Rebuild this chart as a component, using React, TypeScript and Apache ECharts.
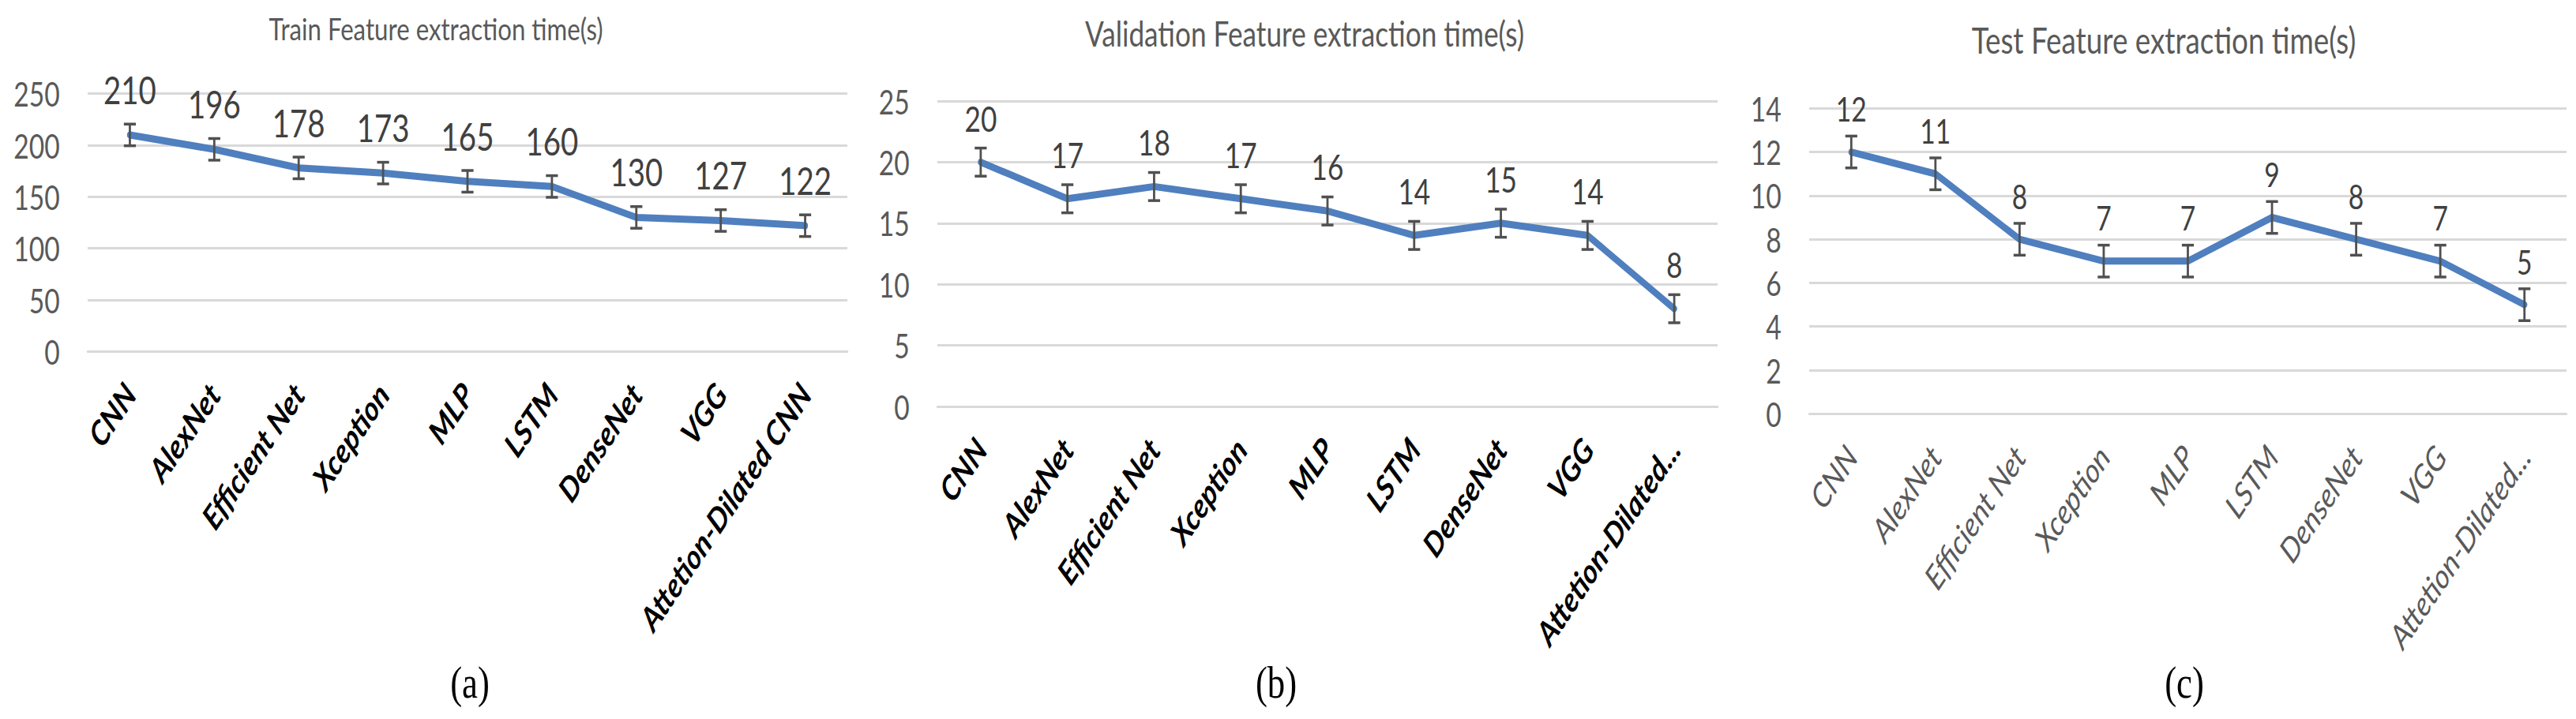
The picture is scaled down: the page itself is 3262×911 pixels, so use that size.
import React, { useEffect, useRef } from "react";
import * as echarts from "echarts";

// ---------- data ----------
const categories = [
  "CNN",
  "AlexNet",
  "Efficient Net",
  "Xception",
  "MLP",
  "LSTM",
  "DenseNet",
  "VGG",
  "Attetion-Dilated CNN",
];

const trainTimes = [210, 196, 178, 173, 165, 160, 130, 127, 122];
const valTimes = [20, 17, 18, 17, 16, 14, 15, 14, 8];
const testTimes = [12, 11, 8, 7, 7, 9, 8, 7, 5];

// error bar half-lengths
const trainErr = [10.5, 10.5, 10.5, 10.5, 10.5, 10.5, 10.5, 10.5, 10.5];
const valErr = [1.15, 1.15, 1.15, 1.15, 1.15, 1.15, 1.15, 1.15, 1.15];
const testErr = [0.73, 0.73, 0.73, 0.73, 0.73, 0.73, 0.73, 0.73, 0.73];

const titles = [
  "Train Feature extraction time(s)",
  "Validation Feature extraction time(s)",
  "Test Feature extraction time(s)",
];
const panelTags = ["(a)", "(b)", "(c)"];
const yMax = [250, 25, 14];
const yStep = [50, 5, 2];

// ---------- layout / style ----------
const S = 0.8; // horizontal squeeze of the original figure
const W = 3262 / S;
const H = 911;
const FONT = "Lato, 'Open Sans', sans-serif";
const BLUE = "#4F7FBE";
const BAR = "#505050";
const GRID = "#D9D9D9";

const grids = [
  { left: 138.75, top: 118.7, width: 1202.5, height: 326.6 },
  { left: 1483.75, top: 128, width: 1235, height: 387 },
  { left: 2863.75, top: 137.3, width: 1198.75, height: 387 },
];
const titlePos = [
  { x: 690, y: 36, size: 39 },
  { x: 2065, y: 42, size: 44 },
  { x: 3425, y: 50, size: 46 },
];
const tagX = [743.75, 2020, 3457.5];
const labelSize = [48, 44, 42];
const xLabelStyle = [
  { color: "#000000", weight: "bold", trunc: false },
  { color: "#000000", weight: "bold", trunc: true },
  { color: "#595959", weight: "normal", trunc: true },
];

function buildOption() {
  const values = [trainTimes, valTimes, testTimes];
  const errs = [trainErr, valErr, testErr];

  const xAxis = grids.map((_, i) => ({
    type: "category",
    gridIndex: i,
    data: categories,
    boundaryGap: true,
    axisTick: { show: false },
    axisLine: { show: true, lineStyle: { color: GRID, width: 3 } },
    axisLabel: {
      interval: 0,
      rotate: 50,
      hideOverlap: false,
      margin: 46,
      fontSize: 43,
      fontStyle: "italic",
      fontWeight: xLabelStyle[i].weight,
      color: xLabelStyle[i].color,
      fontFamily: FONT,
      formatter: (v: string) =>
        xLabelStyle[i].trunc && v.length > 17 ? v.slice(0, 16) + "..." : v,
    },
  }));

  const yAxis = grids.map((_, i) => ({
    type: "value",
    gridIndex: i,
    min: 0,
    max: yMax[i],
    interval: yStep[i],
    axisLine: { show: false },
    axisTick: { show: false },
    splitLine: { show: true, lineStyle: { color: GRID, width: 3 } },
    axisLabel: {
      margin: 44,
      fontSize: 42,
      color: "#595959",
      fontFamily: FONT,
    },
  }));

  const series: any[] = [];
  values.forEach((vals, i) => {
    series.push({
      type: "line",
      xAxisIndex: i,
      yAxisIndex: i,
      data: vals,
      symbol: "circle",
      symbolSize: 2,
      showSymbol: true,
      itemStyle: { color: BLUE },
      lineStyle: { color: BLUE, width: 9, cap: "round", join: "round" },
      z: 2,
      label: {
        show: true,
        position: "top",
        distance: 33,
        fontSize: labelSize[i],
        color: "#404040",
        fontFamily: FONT,
      },
    });
    series.push({
      type: "custom",
      xAxisIndex: i,
      yAxisIndex: i,
      z: 3,
      encode: { x: 0, y: 1 },
      data: vals.map((v, k) => [k, v, errs[i][k]]),
      renderItem: (params: any, api: any) => {
        const idx = api.value(0);
        const v = api.value(1);
        const e = api.value(2);
        const top = api.coord([idx, v + e]);
        const bot = api.coord([idx, v - e]);
        const hw = 9.5;
        const st = { stroke: BAR, lineWidth: 3.5 };
        return {
          type: "group",
          children: [
            { type: "line", shape: { x1: top[0], y1: top[1], x2: bot[0], y2: bot[1] }, style: st },
            { type: "line", shape: { x1: top[0] - hw, y1: top[1], x2: top[0] + hw, y2: top[1] }, style: st },
            { type: "line", shape: { x1: bot[0] - hw, y1: bot[1], x2: bot[0] + hw, y2: bot[1] }, style: st },
          ],
        };
      },
    });
  });

  const graphic: any[] = [];
  titles.forEach((t, i) => {
    graphic.push({
      type: "text",
      x: titlePos[i].x,
      y: titlePos[i].y,
      style: {
        text: t,
        fontSize: titlePos[i].size,
        fontFamily: FONT,
        fill: "#595959",
        align: "center",
        verticalAlign: "middle",
      },
    });
  });
  panelTags.forEach((t, i) => {
    graphic.push({
      type: "text",
      x: tagX[i],
      y: 865,
      style: {
        text: t,
        fontSize: 56,
        fontFamily: "'Liberation Serif', 'DejaVu Serif', serif",
        fill: "#000000",
        align: "center",
        verticalAlign: "middle",
      },
    });
  });

  return {
    animation: false,
    backgroundColor: "#ffffff",
    grid: grids,
    xAxis,
    yAxis,
    series,
    graphic,
  };
}

export default function App() {
  const ref = useRef<HTMLDivElement>(null);
  useEffect(() => {
    if (!ref.current) return;
    const chart = echarts.init(ref.current, null, { renderer: "svg" });
    chart.setOption(buildOption() as any);
    return () => chart.dispose();
  }, []);
  return (
    <div
      style={{
        position: "fixed",
        left: 0,
        top: 0,
        width: 3262,
        height: H,
        overflow: "hidden",
        background: "#ffffff",
      }}
    >
      <div
        ref={ref}
        style={{
          width: W,
          height: H,
          transform: `scaleX(${S})`,
          transformOrigin: "0 0",
        }}
      />
    </div>
  );
}
